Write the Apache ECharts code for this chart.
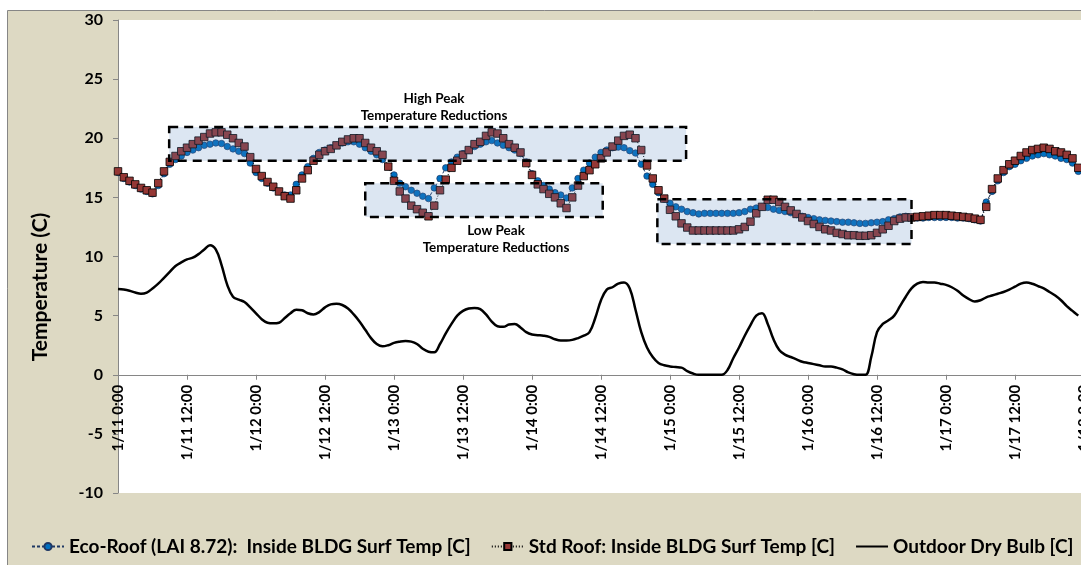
<!DOCTYPE html>
<html>
<head>
<meta charset="utf-8">
<title>Roof inside surface temperatures</title>
<script src="https://cdn.jsdelivr.net/npm/echarts@6/dist/echarts.min.js"></script>
<style>
  html, body { margin: 0; padding: 0; background: #ffffff; }
  #chart { width: 1081px; height: 565px; }
</style>
</head>
<body>
<div id="chart"></div>
<script>
// Hourly readings from 1/11 0:00 onward (one value per hour).
const xTickLabels = [
  '1/11 0:00', '1/11 12:00', '1/12 0:00', '1/12 12:00', '1/13 0:00',
  '1/13 12:00', '1/14 0:00', '1/14 12:00', '1/15 0:00', '1/15 12:00',
  '1/16 0:00', '1/16 12:00', '1/17 0:00', '1/17 12:00', '1/18 0:00'
];

const seriesNames = [
  'Eco-Roof (LAI 8.72):  Inside BLDG Surf Temp [C]',
  'Std Roof: Inside BLDG Surf Temp [C]',
  'Outdoor Dry Bulb [C]'
];

const ecoRoof = [
  17.1, 16.6, 16.3, 16.0, 15.7, 15.5, 15.3, 16.0, 17.0, 17.8,
  18.2, 18.5, 18.8, 19.0, 19.2, 19.4, 19.5, 19.6, 19.55, 19.3,
  19.1, 18.9, 18.7, 17.9, 17.1, 16.6, 16.2, 15.8, 15.5, 15.2,
  15.2, 16.1, 16.9, 17.6, 18.3, 18.8, 19.0, 19.2, 19.4, 19.6,
  19.7, 19.7, 19.5, 19.2, 18.9, 18.6, 18.2, 17.6, 16.9, 16.2,
  15.9, 15.6, 15.35, 15.1, 14.9, 15.8, 16.6, 17.5, 18.0, 18.4,
  18.7, 19.0, 19.3, 19.5, 19.7, 19.8, 19.6, 19.4, 19.2, 19.0,
  18.7, 18.0, 17.0, 16.4, 16.0, 15.7, 15.4, 15.2, 14.95, 15.8,
  16.6, 17.3, 17.9, 18.4, 18.8, 19.0, 19.2, 19.25, 19.2, 18.95,
  18.75, 17.8, 16.8, 16.1, 15.4, 14.85, 14.5, 14.2, 14.0, 13.8,
  13.7, 13.6, 13.65, 13.65, 13.65, 13.65, 13.65, 13.65, 13.7, 13.8,
  14.0, 14.1, 14.2, 14.15, 14.0, 13.9, 13.8, 13.7, 13.55, 13.4,
  13.3, 13.2, 13.1, 13.05, 13.0, 12.95, 12.9, 12.9, 12.85, 12.8,
  12.8, 12.85, 12.9, 12.95, 13.1, 13.2, 13.35, 13.4, 13.25, 13.25,
  13.25, 13.3, 13.3, 13.3, 13.3, 13.3, 13.25, 13.25, 13.2, 13.1,
  13.0, 14.6, 15.5, 16.4, 17.1, 17.6, 17.8, 18.1, 18.3, 18.5,
  18.6, 18.7, 18.6, 18.5, 18.3, 18.2, 17.9, 17.2
];

const stdRoof = [
  17.2, 16.7, 16.4, 16.1, 15.8, 15.6, 15.4, 16.2, 17.2, 18.0,
  18.5, 18.9, 19.2, 19.5, 19.8, 20.1, 20.4, 20.5, 20.5, 20.3,
  20.0, 19.6, 19.3, 18.4, 17.4, 16.8, 16.3, 15.9, 15.5, 15.1,
  14.9, 15.6, 16.6, 17.3, 18.1, 18.6, 18.9, 19.1, 19.4, 19.7,
  19.9, 20.0, 20.0, 19.6, 19.2, 18.9, 18.6, 17.6, 16.4, 15.5,
  14.9, 14.3, 14.0, 13.7, 13.4, 14.3, 15.6, 16.5, 17.5, 18.1,
  18.6, 19.0, 19.5, 19.7, 20.2, 20.5, 20.4, 20.0, 19.5, 19.2,
  18.8, 17.9, 16.9, 16.1, 15.7, 15.3, 15.0, 14.5, 14.1, 15.0,
  16.0, 16.8, 17.3, 17.8, 18.3, 18.8, 19.3, 19.8, 20.2, 20.3,
  20.0, 19.0, 17.7, 16.6, 15.6, 14.9, 13.95, 13.4, 12.8, 12.45,
  12.2, 12.2, 12.2, 12.2, 12.2, 12.2, 12.2, 12.2, 12.3, 12.5,
  12.95, 13.65, 14.2, 14.8, 14.8, 14.6, 14.2, 13.9, 13.6, 13.3,
  13.0, 12.75, 12.5, 12.3, 12.2, 12.0, 11.9, 11.8, 11.8, 11.75,
  11.75, 11.8, 12.0, 12.3, 12.6, 13.0, 13.2, 13.3, 13.3, 13.35,
  13.4, 13.45, 13.5, 13.5, 13.5, 13.45, 13.4, 13.35, 13.3, 13.2,
  13.1, 14.2, 15.7, 16.6, 17.3, 17.8, 18.1, 18.5, 18.8, 19.0,
  19.1, 19.2, 19.1, 18.9, 18.8, 18.6, 18.3, 17.5
];

const outdoorDryBulb = [
  7.25, 7.2, 7.1, 6.95, 6.85, 6.95, 7.3, 7.7, 8.2, 8.7,
  9.2, 9.5, 9.75, 9.9, 10.2, 10.6, 10.95, 10.6, 9.3, 7.6,
  6.6, 6.35, 6.15, 5.7, 5.2, 4.7, 4.4, 4.35, 4.4, 4.8,
  5.2, 5.5, 5.45, 5.2, 5.1, 5.3, 5.7, 5.95, 6.0, 5.9,
  5.6, 5.1, 4.5, 3.8, 3.1, 2.6, 2.4, 2.5, 2.7, 2.8,
  2.85, 2.8, 2.6, 2.2, 1.95, 1.9, 2.6, 3.5, 4.3, 5.0,
  5.4, 5.6, 5.65, 5.55, 5.1, 4.5, 4.1, 4.05, 4.25, 4.3,
  4.0, 3.6, 3.4, 3.35, 3.3, 3.2, 3.0, 2.9, 2.9, 2.95,
  3.1, 3.3, 3.6, 4.8, 6.3, 7.2, 7.4, 7.7, 7.8, 7.3,
  5.5, 3.6, 2.3, 1.5, 1.0, 0.8, 0.7, 0.65, 0.6, 0.3,
  0.1, 0.0, 0.0, 0.0, 0.0, 0.0, 0.4, 1.4, 2.3, 3.3,
  4.2, 5.0, 5.2, 4.3, 3.0, 2.1, 1.7, 1.5, 1.3, 1.1,
  1.0, 0.9, 0.8, 0.7, 0.7, 0.6, 0.45, 0.2, 0.05, 0.0,
  0.0, 1.5, 3.6, 4.3, 4.6, 5.0, 5.8, 6.6, 7.3, 7.7,
  7.85, 7.8, 7.8, 7.7, 7.6, 7.4, 7.1, 6.7, 6.4, 6.2,
  6.3, 6.55, 6.7, 6.85, 7.0, 7.2, 7.45, 7.7, 7.8, 7.7,
  7.5, 7.3, 7.0, 6.7, 6.3, 5.8, 5.4, 5.0
];

// Highlighted windows: [start hour, end hour, low temp, high temp]
const highPeakBox = [8.9, 98.8, 18.1, 20.95];
const lowPeakBoxes = [
  [43.0, 84.3, 13.35, 16.2],
  [93.8, 138.0, 11.05, 14.85]
];
const boxCaptions = ['High Peak\nTemperature Reductions', 'Low Peak\nTemperature Reductions'];

const FONT = 'Lato, "Open Sans", sans-serif';
const AXIS_GRAY = '#868686';
const Y_MIN = -10;
const Y_MAX = 30;
const GRID_TOP = 20;
const GRID_HEIGHT = 473;

const toPairs = arr => arr.map((v, i) => [i, v]);

const chart = echarts.init(document.getElementById('chart'), null, { renderer: 'canvas' });

// The time axis sits on the 0 °C line, so shift it up from the grid bottom.
const zeroOffset = -GRID_HEIGHT * (0 - Y_MIN) / (Y_MAX - Y_MIN);

chart.setOption({
  animation: false,
  backgroundColor: '#ffffff',
  grid: {
    left: 118, top: GRID_TOP, width: 966, height: GRID_HEIGHT,
    show: true, backgroundColor: '#ffffff', borderWidth: 0,
    containLabel: false, outerBoundsMode: 'none'
  },
  graphic: [
    {
      type: 'rect', z: -10, silent: true,
      shape: { x: 7.5, y: 10.5, width: 1100, height: 570 },
      style: { fill: '#DDD9C3', stroke: AXIS_GRAY, lineWidth: 1 }
    },
    {
      type: 'text', z: 50, silent: true,
      x: 40, y: 287, rotation: Math.PI / 2,
      style: {
        text: 'Temperature (C)', fill: '#000', align: 'center', verticalAlign: 'middle',
        font: 'bold 21px ' + FONT
      }
    },
    {
      type: 'text', z: 50, silent: true,
      x: 434, y: 107,
      style: {
        text: boxCaptions[0], fill: '#000', align: 'center', verticalAlign: 'middle',
        font: 'bold 13.5px ' + FONT, lineHeight: 17
      }
    },
    {
      type: 'text', z: 50, silent: true,
      x: 496, y: 239,
      style: {
        text: boxCaptions[1], fill: '#000', align: 'center', verticalAlign: 'middle',
        font: 'bold 13.5px ' + FONT, lineHeight: 17
      }
    }
  ],
  legend: {
    left: 26, top: 532, width: 1300,
    itemWidth: 32, itemHeight: 9, itemGap: 20,
    textStyle: { fontFamily: FONT, fontWeight: 'bold', fontSize: 19, color: '#000' },
    data: [
      { name: seriesNames[0] },
      { name: seriesNames[1] },
      { name: seriesNames[2], itemStyle: { color: 'rgba(0,0,0,0)', borderWidth: 0 } }
    ]
  },
  xAxis: {
    type: 'value', min: 0, max: 168, interval: 12,
    position: 'bottom', offset: zeroOffset,
    splitLine: { show: false },
    axisLine: { show: true, onZero: false, lineStyle: { color: AXIS_GRAY, width: 1 } },
    axisTick: { show: true, inside: false, length: 5, lineStyle: { color: AXIS_GRAY } },
    axisLabel: {
      rotate: 90, margin: 10, showMinLabel: true, showMaxLabel: true, hideOverlap: false,
      fontFamily: FONT, fontWeight: 'bold', fontSize: 15, color: '#000',
      formatter: v => xTickLabels[Math.round(v / 12)]
    }
  },
  yAxis: {
    type: 'value', min: Y_MIN, max: Y_MAX, interval: 5,
    splitLine: { show: false },
    axisLine: { show: true, onZero: false, lineStyle: { color: AXIS_GRAY, width: 1 } },
    axisTick: { show: true, inside: false, length: 5, lineStyle: { color: AXIS_GRAY } },
    axisLabel: {
      margin: 15, fontFamily: FONT, fontWeight: 'bold', fontSize: 16, color: '#000'
    }
  },
  series: [
    {
      name: seriesNames[2], type: 'line', z: 2,
      data: toPairs(outdoorDryBulb),
      smooth: 0.4, symbol: 'none',
      lineStyle: { color: '#000', width: 2.5 },
      itemStyle: { color: '#000' }
    },
    {
      name: seriesNames[0], type: 'line', z: 3,
      data: toPairs(ecoRoof),
      symbol: 'circle', symbolSize: 6.5, showSymbol: true,
      lineStyle: { color: '#1F3864', width: 1, type: [3, 2] },
      itemStyle: { color: '#0070C0', borderColor: '#1F3864', borderWidth: 0.7 }
    },
    {
      name: seriesNames[1], type: 'line', z: 4,
      data: toPairs(stdRoof),
      symbol: 'rect', symbolSize: 7.5, showSymbol: true,
      lineStyle: { color: '#000', width: 1, type: [1, 2] },
      itemStyle: { color: '#953735', borderColor: '#000', borderWidth: 0.8 }
    },
    {
      name: 'boxes', type: 'custom', z: 10, silent: true,
      data: [highPeakBox].concat(lowPeakBoxes),
      renderItem: (params, api) => {
        const p0 = api.coord([api.value(0), api.value(3)]);
        const p1 = api.coord([api.value(1), api.value(2)]);
        return {
          type: 'rect',
          shape: { x: p0[0], y: p0[1], width: p1[0] - p0[0], height: p1[1] - p0[1] },
          style: {
            fill: 'rgba(79,129,189,0.2)', stroke: '#000', lineWidth: 2.5,
            lineDash: [9, 6]
          }
        };
      },
      encode: { x: [0, 1], y: [2, 3] }
    }
  ]
});
</script>
</body>
</html>
